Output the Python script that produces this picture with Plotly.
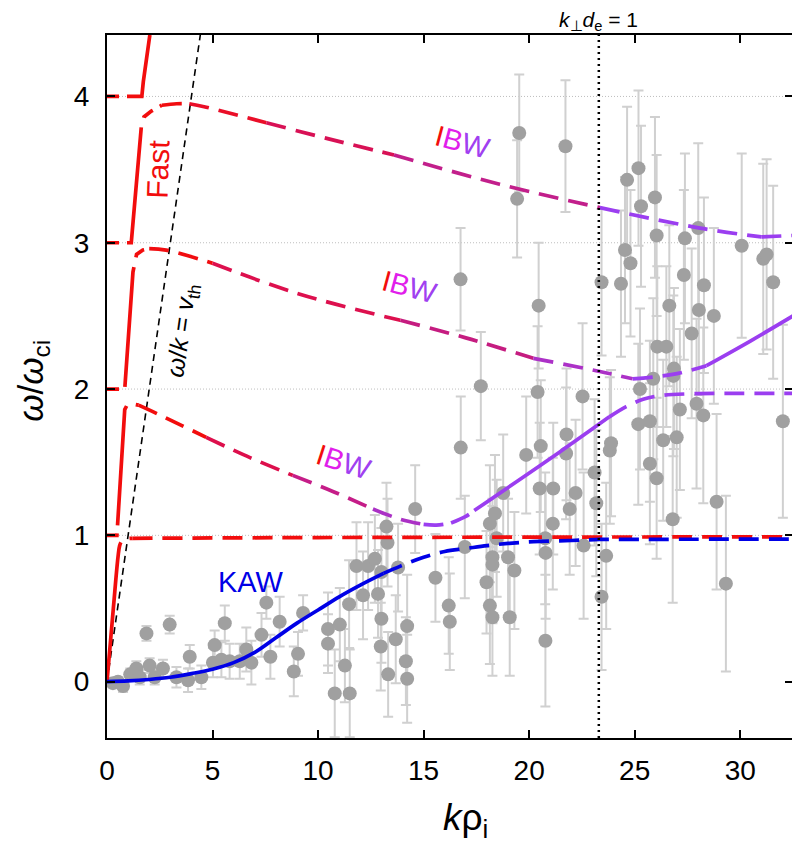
import numpy as np
import plotly.graph_objects as go

# ---------------- data ----------------
obs_x = [0.28, 0.52, 0.76, 1.10, 1.39, 1.55, 1.87, 2.02, 2.26, 2.65, 2.97, 3.29, 3.84, 3.92, 4.47,
         5.02, 5.10, 5.42, 5.58, 5.81, 6.29, 6.60, 6.84, 7.32, 7.55, 7.74, 8.18, 8.85, 9.05, 9.29,
         10.47, 10.47, 10.79, 11.03, 11.27, 11.47, 11.50, 11.82, 12.13, 12.37, 12.69, 12.84, 12.97,
         13.00, 13.00, 13.24, 13.29, 13.32, 13.68, 13.79, 14.16, 14.22, 14.22, 14.60, 15.56, 16.19,
         16.24, 16.76, 16.95, 16.75, 17.71, 17.98, 18.14, 18.14, 18.26, 18.26, 18.26, 18.38, 18.46,
         18.77, 19.00, 19.30, 19.08, 19.43, 19.53, 19.86, 20.40, 20.45, 20.50, 20.55, 20.76, 20.78,
         20.77, 21.14, 21.12, 21.72, 21.77, 21.75, 21.92, 22.20, 22.53, 22.58, 23.10, 23.18, 23.43,
         23.43, 23.65, 23.82, 23.88, 24.35, 24.54, 24.64, 24.80, 25.17, 25.18, 25.25, 25.30, 25.72,
         25.72, 25.88, 25.96, 26.04, 26.04, 26.07, 26.35, 26.50, 26.64, 26.80, 26.83, 26.86, 26.99,
         27.14, 27.33, 27.38, 27.70, 27.93, 28.01, 28.04, 28.25, 28.28, 28.75, 28.88, 29.32, 30.07,
         31.09, 31.25, 31.56, 32.02]
obs_y = [-0.01, 0.00, -0.03, 0.05, 0.09, 0.03, 0.33, 0.11, 0.03, 0.09, 0.39, 0.03, 0.01, 0.17, 0.03,
         0.13, 0.25, 0.15, 0.40, 0.14, 0.14, 0.22, 0.13, 0.32, 0.54, 0.17, 0.41, 0.07, 0.19, 0.47,
         0.36, 0.26, -0.08, 0.39, 0.11, 0.53, -0.08, 0.79, 0.59, 0.79, 0.84, 0.60, 0.24,
         0.75, 0.43, 1.06, 0.95, 0.05, 0.29, 0.78, 0.14, 0.38, 0.02, 1.18, 0.71, 0.52,
         0.41, 1.60, 0.92, 2.75, 2.02, 0.68, 0.52, 1.08, 0.44, 0.85, 0.80, 1.15, 0.98,
         1.29, 0.85, 0.76, 0.44, 3.30, 3.75, 1.55, 1.98, 2.57, 1.32, 1.61, 0.98, 0.88,
         0.28, 1.32, 1.08, 3.66, 1.69, 1.56, 1.18, 1.29, 1.95, 0.93, 1.43, 1.22, 2.73,
         0.58, 0.86, 1.58, 1.63, 2.72, 2.95, 3.43, 2.86, 1.76, 3.51, 2.00, 3.25, 1.78,
         1.49, 2.07, 3.31, 3.05, 1.39, 2.29, 1.65, 2.29, 2.57, 1.11, 2.09, 2.14, 1.67,
         1.86, 2.78, 3.03, 2.38, 1.90, 3.10, 2.54, 1.82, 2.71, 2.50, 1.23, 0.67, 2.98,
         2.89, 2.92, 2.73, 1.78]
obs_err = [0.03, 0.03, 0.04, 0.04, 0.05, 0.05, 0.05, 0.05, 0.05, 0.06, 0.06, 0.07, 0.08, 0.08, 0.08,
           0.10, 0.10, 0.12, 0.12, 0.12, 0.12, 0.15, 0.15, 0.15, 0.11, 0.15, 0.17, 0.17, 0.15, 0.12,
           0.25, 0.20, 0.30, 0.25, 0.25, 0.30, 0.30, 0.30, 0.30, 0.30, 0.30, 0.30, 0.30,
           0.30, 0.30, 0.30, 0.30, 0.29, 0.30, 0.30, 0.30, 0.35, 0.30, 0.30, 0.30, 0.33,
           0.33, 0.35, 0.35, 0.35, 0.37, 0.35, 0.40, 0.40, 0.40, 0.40, 0.40, 0.40, 0.40,
           0.40, 0.40, 0.40, 0.40, 0.40, 0.40, 0.40, 0.45, 0.43, 0.45, 0.45, 0.45, 0.45,
           0.45, 0.45, 0.45, 0.45, 0.45, 0.45, 0.45, 0.50, 0.50, 0.50, 0.50, 0.50, 0.50,
           0.50, 0.50, 0.50, 0.50, 0.50, 0.50, 0.50, 0.50, 0.55, 0.53, 0.55, 0.55, 0.55,
           0.55, 0.55, 0.55, 0.55, 0.55, 0.55, 0.55, 0.55, 0.55, 0.57, 0.55, 0.55, 0.55,
           0.55, 0.58, 0.58, 0.58, 0.58, 0.58, 0.58, 0.60, 0.60, 0.60, 0.60, 0.60, 0.63,
           0.65, 0.65, 0.66, 0.66]

# KAW branch
kaw_solid_x = [0, 1, 2, 3, 4, 5, 6, 7, 8, 9, 10, 11, 12, 13.1]
kaw_solid_y = [0, 0.005, 0.015, 0.03, 0.055, 0.085, 0.13, 0.2, 0.3, 0.4, 0.49, 0.58, 0.66, 0.74]
kaw_dash_x = [13.1, 13.9, 15, 16, 17, 18, 19, 20.2, 22, 23.35, 26, 32.5]
kaw_dash_y = [0.74, 0.79, 0.85, 0.89, 0.91, 0.93, 0.945, 0.957, 0.965, 0.972, 0.973, 0.975]

# band 0-1 (fast part, then flat dashed)
b0_fast_x = [0, 0.3, 0.52, 0.6, 0.7, 0.9, 1.2]
b0_fast_y = [0, 0.5, 0.85, 0.93, 0.96, 0.975, 0.98]
b0_dash_x = [1.2, 10, 20, 32.5]
b0_dash_y = [0.98, 0.985, 0.988, 0.99]

# band 1-2
b1_fast_x = [0, 0.47, 0.84, 0.95, 1.15, 1.5]
b1_fast_y = [1.0, 1.0, 1.86, 1.89, 1.9, 1.89]
b1_ibw_x = [1.5, 2.4, 4.7, 6.8, 8.8, 10.7, 12.6, 13.9, 15.0, 15.6, 16.3, 17.0, 17.4]
b1_ibw_y = [1.89, 1.83, 1.67, 1.53, 1.41, 1.30, 1.18, 1.11, 1.075, 1.07, 1.085, 1.13, 1.17]
b1_solid_x = [17.4, 21.45, 23.8]
b1_solid_y = [1.17, 1.57, 1.81]
b1_tail_x = [23.8, 24.6, 25.4, 26.2, 27.5, 32.5]
b1_tail_y = [1.81, 1.88, 1.93, 1.955, 1.967, 1.97]

# band 2-3
b2_fast_x = [0, 0.84, 1.23, 1.4, 1.7, 2.0]
b2_fast_y = [2.0, 2.0, 2.8, 2.92, 2.95, 2.96]
b2_ibw_x = [2.0, 2.8, 5.0, 9.1, 13.9, 17.0, 20.2, 23.35, 24.9, 26.8, 28.4]
b2_ibw_y = [2.96, 2.95, 2.86, 2.65, 2.47, 2.35, 2.21, 2.12, 2.07, 2.10, 2.16]
b2_solid_x = [28.4, 30.5, 32.5]
b2_solid_y = [2.16, 2.33, 2.5]

# band 3-4
b3_fast_x = [0, 1.15, 1.63, 1.75, 2.1, 2.6]
b3_fast_y = [3.0, 3.0, 3.8, 3.86, 3.9, 3.94]
b3_ibw_x = [2.6, 3.3, 3.9, 4.6, 7.55, 10.5, 13.6, 18.6, 23.35, 28.1, 31.0, 32.5]
b3_ibw_y = [3.94, 3.95, 3.95, 3.93, 3.82, 3.71, 3.60, 3.40, 3.24, 3.10, 3.04, 3.05]

# band 4 (fast part only, leaves the frame)
b4_fast_x = [0, 1.65, 1.72, 2.03]
b4_fast_y = [4.0, 4.0, 4.1, 4.42]

# thermal-speed line  omega/k = v_th
vth_x = [0, 4.42]
vth_y = [0, 4.42]

kde_x = 23.3          # k_perp d_e = 1
x_ticks = [0, 5, 10, 15, 20, 25, 30]
y_ticks = [0, 1, 2, 3, 4]
grid_y = [1, 2, 3, 4]

# ---------------- style ----------------
FONT = "Liberation Sans"
RED = "rgb(242,13,13)"
BLUE = "rgb(0,0,230)"
PURPLE = "rgb(155,62,240)"
IBW_DASH = "20px,10px"
FAST_DASH = "12px,8px,120px,10px"

upper_stops = ([3, 8, 14, 20, 24, 26],
               [(242, 13, 13), (225, 15, 70), (205, 20, 105), (190, 35, 150), (165, 55, 220), (155, 62, 240)])
lower_stops = ([3, 7, 11, 14, 15.5],
               [(242, 13, 13), (220, 15, 80), (195, 30, 140), (170, 50, 200), (155, 62, 240)])


def grad_color(x, stops):
    xs, cols = stops
    c = [np.interp(x, xs, [cc[i] for cc in cols]) for i in range(3)]
    return "rgb(%d,%d,%d)" % tuple(int(round(v)) for v in c)


fig = go.Figure()

# observations
fig.add_trace(go.Scatter(
    x=obs_x, y=obs_y, mode="markers",
    marker=dict(size=14, color="rgb(160,160,160)"),
    error_y=dict(type="data", array=obs_err, color="rgb(208,208,208)", thickness=2, width=5),
    showlegend=False, hoverinfo="skip"))


def add_line(xs, ys, color, dash, width=3.7, shape="spline"):
    fig.add_trace(go.Scatter(x=xs, y=ys, mode="lines",
                             line=dict(color=color, width=width, dash=dash, shape=shape),
                             showlegend=False, hoverinfo="skip"))


def add_gradient(xs, ys, stops, dash=IBW_DASH):
    n = len(xs)
    i = 0
    while i < n - 1:
        j = min(i + 2, n - 1)
        seg_x = xs[i:j + 1]
        seg_y = ys[i:j + 1]
        col = grad_color(float(np.mean(seg_x)), stops)
        add_line(seg_x, seg_y, col, dash)
        i = j


# thermal line
add_line(vth_x, vth_y, "black", "7px,5px", width=1.6, shape="linear")

# fast-mode parts
add_line(b0_fast_x, b0_fast_y, RED, "140px,10px")
add_line(b1_fast_x, b1_fast_y, RED, FAST_DASH, shape="linear")
add_line(b2_fast_x, b2_fast_y, RED, FAST_DASH, shape="linear")
add_line(b3_fast_x, b3_fast_y, RED, FAST_DASH, shape="linear")
add_line(b4_fast_x, b4_fast_y, RED, FAST_DASH, shape="linear")

# flat 0-1 branch
add_line(b0_dash_x, b0_dash_y, RED, IBW_DASH)

# ion Bernstein branches
add_gradient(b1_ibw_x, b1_ibw_y, lower_stops)
add_line(b1_solid_x, b1_solid_y, PURPLE, "solid")
add_line(b1_tail_x, b1_tail_y, PURPLE, IBW_DASH)
add_gradient(b2_ibw_x, b2_ibw_y, upper_stops)
add_line(b2_solid_x, b2_solid_y, PURPLE, "solid")
add_gradient(b3_ibw_x, b3_ibw_y, upper_stops)

# KAW
add_line(kaw_solid_x, kaw_solid_y, BLUE, "solid")
add_line(kaw_dash_x, kaw_dash_y, BLUE, IBW_DASH)

# gridlines and k_perp d_e = 1 marker
shapes = []
for g in grid_y:
    shapes.append(dict(type="line", xref="paper", x0=0, x1=1, yref="y", y0=g, y1=g,
                       line=dict(color="rgb(190,190,190)", width=1, dash="1px,2px"), layer="below"))
shapes.append(dict(type="line", xref="x", x0=kde_x, x1=kde_x, yref="paper", y0=0, y1=1,
                   line=dict(color="black", width=2.5, dash="2px,4px")))

ibw_txt = ("<span style='color:rgb(242,13,13)'>I</span>"
           "<span style='color:rgb(225,30,235)'>B</span>"
           "<span style='color:rgb(160,64,240)'>W</span>")


def ann(x, y, text, size, color="black", angle=0, xref="x", yref="y", **kw):
    d = dict(x=x, y=y, xref=xref, yref=yref, text=text, textangle=angle, showarrow=False,
             xanchor="center", yanchor="middle",
             font=dict(family=FONT, size=size, color=color))
    d.update(kw)
    return d


annotations = [
    ann(kde_x, 1.0, "<i>k</i><sub>⊥</sub><i>d</i><sub>e</sub> = 1", 21, yref="paper",
        yanchor="bottom", yshift=0, borderpad=0),
    ann(2.42, 3.50, "Fast", 30, RED, -88),
    ann(3.56, 2.40, "<i>ω</i>/<i>k</i> = <i>v</i><sub>th</sub>", 25, "black", -82),
    ann(6.84, 0.68, "KAW", 29, BLUE),
    ann(16.83, 3.69, ibw_txt, 29, angle=15),
    ann(14.35, 2.70, ibw_txt, 29, angle=15),
    ann(11.22, 1.50, ibw_txt, 29, angle=18),
    # axis titles
    ann(0.523, -0.117, "<i>k</i>ρ<sub>i</sub>", 37, xref="paper", yref="paper"),
    ann(-0.108, 0.508, "<i>ω</i>/<i>ω</i><sub>ci</sub>", 35, angle=-90, xref="paper", yref="paper",
        borderpad=0),
]

axis_common = dict(ticks="inside", ticklen=8, tickwidth=1.5, tickcolor="black",
                   showline=True, linecolor="black", linewidth=2, mirror="ticks",
                   showgrid=False, zeroline=False, automargin=False,
                   tickfont=dict(family=FONT, size=28, color="black"))

# the page body adds an 8 px offset; margins compensate for it
fig.update_layout(
    width=800, height=847,
    margin=dict(l=99, r=15, t=27, b=117, autoexpand=False),
    plot_bgcolor="white", paper_bgcolor="white",
    xaxis=dict(range=[0, 32.5], tickvals=x_ticks, ticklabelstandoff=6, **axis_common),
    yaxis=dict(range=[-0.385, 4.42], tickvals=y_ticks, ticklabelstandoff=10, **axis_common),
    shapes=shapes, annotations=annotations, showlegend=False,
)

fig.write_html("out.html")
